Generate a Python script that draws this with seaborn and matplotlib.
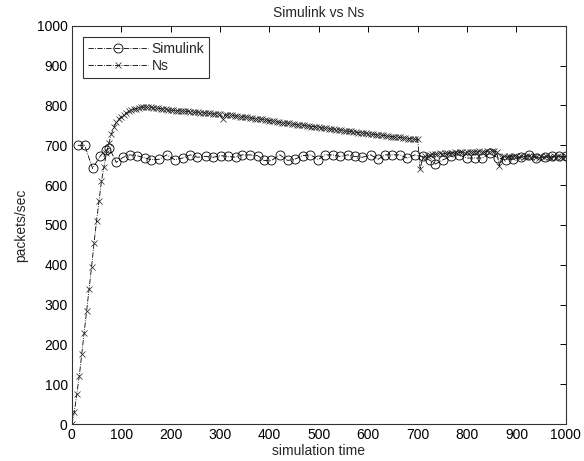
import numpy as np
import matplotlib
matplotlib.use("Agg")
import matplotlib.pyplot as plt
import seaborn as sns

# Simulink trace (variable step solver, so times are irregular)
simulink_time = [12, 26, 42, 58, 70, 76, 90, 104, 117, 132, 148, 161, 177, 192,
                 208, 224, 240, 254, 271, 286, 301, 316, 332, 345, 360, 376, 389,
                 404, 421, 437, 451, 467, 483, 499, 512, 528, 543, 558, 573, 588,
                 605, 620, 634, 649, 664, 679, 694, 710, 725, 736, 752, 768, 784,
                 799, 816, 831, 846, 863, 878, 893, 910, 926, 940, 957, 972, 987,
                 1000]
simulink_rate = [700, 700, 642, 674, 688, 693, 657, 670, 676, 674, 668, 664, 665, 676,
                 664, 668, 676, 670, 672, 670, 674, 672, 670, 676, 676, 674, 662,
                 662, 676, 662, 665, 674, 676, 664, 676, 676, 672, 676, 672, 670,
                 676, 665, 676, 676, 676, 668, 676, 672, 662, 653, 664, 672, 676,
                 668, 668, 668, 680, 668, 664, 665, 670, 676, 668, 670, 672, 672,
                 672]

# Ns trace, sampled every 5 s
ns_time = np.arange(0, 1001, 5)
ns_rate = [0, 30, 75, 120, 175, 230, 285, 340, 395, 455,
           510, 560, 610, 645, 680, 705, 728, 745, 758, 766,
           772, 777, 781, 785, 788, 790, 792, 794, 795, 796,
           796, 795, 795, 794, 794, 793, 792, 791, 790, 789,
           788, 788, 787, 787, 786, 786, 785, 785, 784, 784,
           783, 783, 782, 782, 781, 781, 780, 779, 779, 778,
           778, 766, 777, 776, 775, 775, 774, 773, 772, 772,
           771, 770, 769, 768, 767, 767, 766, 765, 764, 763,
           762, 761, 760, 759, 758, 757, 756, 756, 755, 754,
           753, 752, 751, 751, 750, 749, 748, 747, 747, 746,
           745, 744, 743, 743, 742, 741, 740, 739, 739, 738,
           737, 736, 735, 735, 734, 733, 732, 731, 731, 730,
           729, 728, 728, 727, 726, 725, 725, 724, 723, 722,
           722, 721, 720, 720, 719, 718, 717, 717, 716, 715,
           715, 640, 668, 672, 674, 676, 678, 677, 679, 680,
           678, 680, 681, 679, 681, 682, 680, 682, 683, 681,
           683, 684, 682, 684, 683, 685, 684, 683, 685, 684,
           686, 685, 684, 648, 668, 672, 670, 673, 671, 674,
           672, 670, 673, 671, 674, 672, 670, 673, 671, 669,
           672, 670, 673, 671, 669, 672, 670, 673, 671, 669,
           672]

x_ticks = list(range(0, 1001, 100))
y_ticks = list(range(0, 1001, 100))

sns.set_style("white")
plt.rcParams['font.family'] = ['Liberation Sans', 'DejaVu Sans']
plt.rcParams['font.size'] = 10

fig = plt.figure(figsize=(5.84, 4.61), dpi=100)
ax = fig.add_axes([0.123, 0.080, 0.846, 0.864])

sns.lineplot(x=simulink_time, y=simulink_rate, ax=ax, color='black',
             linestyle='-.', linewidth=0.6, marker='o', markersize=6.5,
             markerfacecolor='none', markeredgecolor='black', markeredgewidth=0.6,
             label='Simulink')
sns.lineplot(x=ns_time, y=ns_rate, ax=ax, color='black',
             linestyle='-.', linewidth=0.6, marker='x', markersize=5,
             markeredgecolor='#222222', markeredgewidth=0.5,
             label='Ns')

ax.set_xlim(0, 1000)
ax.set_ylim(0, 1000)
ax.set_xticks(x_ticks)
ax.set_yticks(y_ticks)
ax.tick_params(direction='in', top=True, right=True, length=4, width=0.7,
               labelsize=10, colors='black', pad=3)
for s in ax.spines.values():
    s.set_color('#333333')
    s.set_linewidth(0.8)

ax.set_title('Simulink vs Ns', fontsize=10, pad=6)
ax.set_xlabel('simulation time', fontsize=10, labelpad=1)
ax.set_ylabel('packets/sec', fontsize=10, labelpad=6)

leg = ax.legend(loc='upper left', frameon=True, fancybox=False, handlelength=4.3,
                borderpad=0.35, labelspacing=0.25, handletextpad=0.3,
                borderaxespad=0.8, fontsize=10)
leg.get_frame().set_edgecolor('black')
leg.get_frame().set_linewidth(0.8)

fig.savefig('out.png', dpi=100, facecolor='white')
